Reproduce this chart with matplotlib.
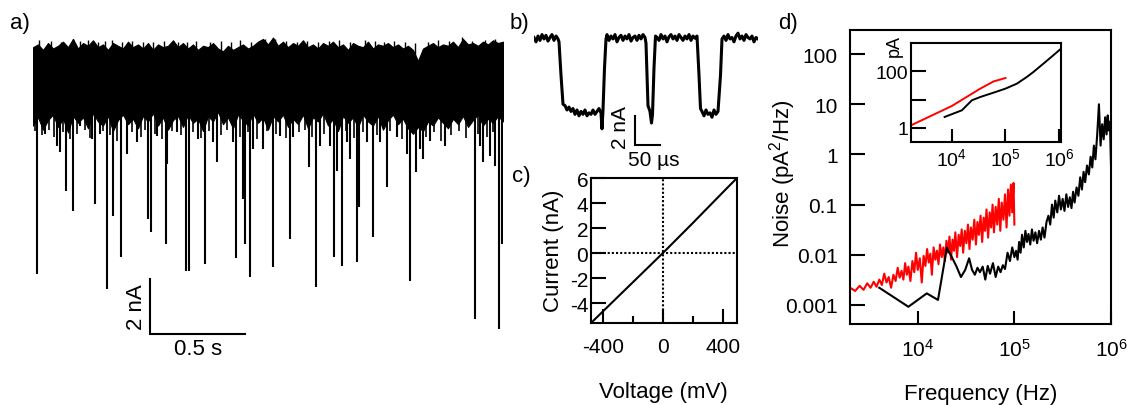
import numpy as np
import matplotlib
matplotlib.use('Agg')
import matplotlib.pyplot as plt
from matplotlib.ticker import FixedLocator, FixedFormatter, NullLocator

plt.rcParams['font.family'] = ['Liberation Sans', 'DejaVu Sans']
plt.rcParams['mathtext.default'] = 'regular'
plt.rcParams['axes.unicode_minus'] = False

# ---------------- data ----------------
# panel a: current trace (nA) over 2.47 s, noise band envelopes + translocation spikes
a_duration = 2.474
a_top = [1.45,1.55,1.35,1.60,1.40,1.50,1.65,1.45,1.75,1.40,1.60,1.50,1.70,1.45,1.55,1.35,1.60,1.50,1.40,1.65,
         1.45,1.55,1.40,1.60,1.35,1.55,1.45,1.50,1.70,1.45,1.60,1.40,1.55,1.35,1.50,1.45,1.60,1.40,1.30,1.50,
         1.35,1.45,1.55,1.40,1.50,1.65,1.75,1.55,1.80,1.50,1.65,1.45,1.60,1.50,1.70,1.45,1.55,1.40,1.60,1.50,
         1.65,1.45,1.55,1.35,1.60,1.50,1.45,1.65,1.40,1.55,1.50,1.60,1.45,1.55,1.40,1.50,1.35,0.95,1.40,1.50,
         1.60,1.45,1.55,1.50,1.65,1.45,1.75,1.55,1.60,1.50,1.65,1.55,1.70,1.60,1.65]
a_bottom = [-1.40,-1.10,-1.55,-1.20,-1.00,-1.45,-1.15,-1.65,-1.05,-1.30,-1.10,-1.50,-0.95,-1.25,-1.40,-1.05,
            -1.60,-1.20,-1.00,-1.35,-1.15,-1.50,-1.05,-1.25,-0.95,-1.40,-1.10,-1.55,-1.20,-1.05,-1.45,-1.00,
            -1.30,-1.15,-1.60,-1.05,-1.25,-0.90,-1.35,-1.10,-1.50,-1.00,-1.20,-1.40,-0.95,-1.30,-1.10,-1.55,
            -1.05,-1.25,-1.00,-1.45,-1.15,-1.35,-1.00,-1.50,-1.10,-1.25,-0.95,-1.40,-1.15,-1.60,-1.05,-1.30,
            -1.10,-1.45,-1.00,-1.25,-1.40,-1.05,-1.55,-1.20,-1.00,-1.35,-1.15,-1.50,-1.70,-1.45,-1.60,-1.25,
            -1.40,-1.10,-1.30,-1.50,-1.15,-1.35,-1.05,-1.45,-1.20,-1.00,-1.40,-1.15,-1.30,-1.05,-1.25]
a_spike_t = [0.021,0.063,0.126,0.142,0.174,0.211,0.247,0.311,0.326,0.353,0.389,0.421,0.463,0.495,0.547,
             0.605,0.621,0.653,0.700,0.705,0.758,0.805,0.821,0.868,0.905,0.947,0.968,1.053,1.068,1.105,
             1.116,1.142,1.158,1.211,1.263,1.300,1.353,1.368,1.453,1.489,1.511,1.563,1.584,1.600,1.626,
             1.653,1.668,1.705,1.716,1.758,1.789,1.826,1.863,1.916,1.968,1.984,2.016,2.037,2.053,2.089,
             2.168,2.326,2.353,2.368,2.405,2.432,2.453,2.468]
a_spike_i = [-6.80,-1.71,-2.15,-2.36,-3.78,-4.51,-1.42,-1.89,-4.25,-1.71,-7.35,-4.69,-6.18,-2.44,-2.00,
             -4.80,-5.27,-1.78,-5.71,-2.80,-1.64,-6.69,-6.69,-1.89,-6.44,-2.00,-2.73,-2.00,-6.22,-4.07,
             -5.71,-6.91,-2.25,-2.25,-6.55,-1.78,-5.53,-1.82,-2.91,-7.27,-2.15,-2.15,-6.18,-3.05,-6.51,
             -2.00,-2.62,-6.36,-4.36,-2.00,-5.45,-2.00,-3.64,-1.82,-2.44,-7.05,-3.09,-2.25,-2.62,-1.96,
             -2.15,-8.44,-2.15,-2.73,-2.51,-2.87,-8.80,-5.71]
# short noise excursions above and below the band
a_up_t = [0.030,0.095,0.150,0.211,0.250,0.289,0.340,0.380,0.416,0.470,0.520,0.580,0.632,0.690,0.763,
          0.810,0.860,0.930,0.990,1.040,1.090,1.150,1.221,1.274,1.330,1.390,1.440,1.500,1.560,1.610,
          1.670,1.747,1.800,1.850,1.900,1.960,2.010,2.080,2.130,2.190,2.258,2.310,2.380,2.432]
a_up_i = [1.70,1.68,1.62,1.75,1.66,1.71,1.64,1.69,1.71,1.62,1.66,1.63,1.64,1.67,1.64,
          1.62,1.68,1.63,1.66,1.62,1.70,1.65,1.75,1.75,1.67,1.62,1.69,1.64,1.66,1.72,
          1.63,1.71,1.66,1.62,1.68,1.64,1.60,1.65,1.70,1.66,1.82,1.68,1.72,1.75]
a_dn_t = [0.010,0.045,0.085,0.110,0.160,0.195,0.230,0.275,0.300,0.370,0.405,0.440,0.520,0.570,0.590,
          0.640,0.680,0.730,0.780,0.840,0.885,0.925,0.990,1.020,1.090,1.130,1.180,1.230,1.280,1.330,
          1.400,1.430,1.470,1.530,1.650,1.690,1.735,1.810,1.880,1.940,2.000,2.070,2.110,2.150,2.200,
          2.240,2.280,2.340,2.390,2.420]
a_dn_i = [-1.60,-1.75,-1.55,-1.80,-1.65,-1.90,-1.70,-1.55,-1.85,-1.60,-1.75,-1.95,-1.65,-1.80,-1.55,
          -1.70,-1.90,-1.60,-1.75,-1.65,-1.85,-1.60,-1.75,-1.55,-1.80,-1.65,-1.90,-1.60,-1.70,-1.85,
          -1.65,-1.55,-1.80,-1.70,-1.60,-1.85,-1.65,-1.75,-1.60,-1.90,-1.70,-1.80,-1.65,-1.95,-1.75,
          -1.60,-1.85,-1.70,-1.80,-1.65]
a_bar_t, a_bar_i = 0.5, 2.0   # scale bar: 0.5 s, 2 nA

# panel b: zoom on single events (time in us, current in nA)
b_t = [0,4,8,12,16,20,24,28,32,36,40,44,48,
       50,54,58,
       62,66,70,74,78,82,86,90,94,98,102,106,110,114,118,122,126,130,134,
       136,138,141,144,
       146,150,154,158,162,166,170,174,178,182,186,190,194,198,202,206,210,214,218,222,
       224,228,232,235,237,240,243,
       246,250,254,258,262,266,270,274,278,282,286,290,294,298,302,306,310,314,318,322,326,
       330,333,
       336,340,344,348,352,356,360,364,368,
       373,376,
       380,384,388,392,396,400,404,408,412,416,420,424,428,432,436,440,444,448]
b_i = [0.1,-0.2,0.2,-0.1,0.3,0.0,0.25,-0.15,0.1,0.3,-0.1,0.2,0.0,
       -0.2,-2.5,-4.5,
       -4.6,-4.9,-4.7,-5.0,-4.8,-5.2,-4.9,-5.3,-5.0,-5.2,-4.9,-5.3,-5.1,-5.2,-4.9,-5.2,-5.0,-4.8,-5.1,
       -6.2,-4.9,-2.0,0.0,
       0.3,-0.1,0.2,0.0,0.3,-0.2,0.1,0.25,-0.1,0.2,0.0,0.3,-0.15,0.1,0.2,-0.1,0.25,0.0,0.3,0.1,
       -0.3,-4.6,-5.0,-5.8,-5.2,-2.0,0.2,
       0.1,-0.1,0.3,0.0,0.2,-0.2,0.15,0.3,0.0,0.2,-0.1,0.3,0.1,-0.1,0.2,0.0,0.3,-0.1,0.2,0.05,0.2,
       -2.5,-4.8,
       -5.0,-5.3,-4.9,-5.2,-5.1,-5.4,-4.9,-5.2,-5.0,
       -2.5,0.0,
       0.2,-0.1,0.3,0.0,0.1,-0.2,0.2,0.4,0.0,0.2,-0.1,0.3,0.1,0.0,0.2,-0.2,0.1,0.0]
b_bar_t, b_bar_i = 50, 2.0    # scale bar: 50 us, 2 nA

# panel c: I-V curve
c_voltage = [-478, -400, -200, 0, 200, 400, 495]
c_current = [-5.57, -4.66, -2.33, 0.0, 2.40, 4.85, 6.0]

# panel d: noise power spectral density (pA^2/Hz)
d_red_f = [2000,2250,2500,2750,3000,3250,3500,3750,4000,4250,4500,4750,5000,5300,5600,5900,6200,6500,6800,
           7100,7400,7700,8000,8400,8800,9200,9600,10000,10500,11000,11500,12000,12500,13000,13500,14000,
           14600,15200,15800,16400,17000,17700,18400,19100,19800,20500,21300,22100,22900,23700,24500,25500,
           26500,27500,28500,29500,30700,31900,33100,34300,35500,37000,38500,40000,41500,43000,44700,46400,
           48100,49800,51500,53500,55500,57500,59500,61500,64000,66500,69000,71500,74000,77000,80000,83000,
           86000,89000,92000,95000,98000,100000]
d_red = [0.0022,0.0019,0.0024,0.0020,0.0027,0.0022,0.0029,0.0023,0.0032,0.0025,0.0042,0.0028,0.0036,0.0022,
         0.0040,0.0030,0.0055,0.0035,0.0048,0.0032,0.0068,0.0040,0.0058,0.0030,0.0075,0.0045,0.0110,0.0050,
         0.0085,0.0028,0.0095,0.0060,0.0130,0.0070,0.0105,0.0040,0.0140,0.0080,0.0120,0.0065,0.0160,0.0090,
         0.0140,0.0075,0.0190,0.0110,0.0230,0.0080,0.0200,0.0120,0.0280,0.0090,0.0250,0.0150,0.0320,0.0110,
         0.0300,0.0170,0.0400,0.0130,0.0350,0.0200,0.0500,0.0160,0.0450,0.0250,0.0600,0.0180,0.0550,0.0300,
         0.0800,0.0220,0.0700,0.0350,0.1000,0.0280,0.0900,0.0400,0.1300,0.0300,0.1100,0.0500,0.1600,0.0350,
         0.2000,0.0600,0.2500,0.0700,0.2700,0.0400]
d_blk_f = [4000,8000,12400,16200,20000,22500,25000,28000,31000,34000,36500,39000,41500,44000,47000,50000,
           53000,56000,60000,64000,68000,72000,76000,80000,85000,90000,95000,100000,
           104000,108000,112000,116000,120000,125000,130000,135000,140000,146000,152000,158000,165000,172000,
           180000,188000,196000,205000,215000,225000,235000,245000,255000,265000,278000,290000,303000,316000,
           330000,345000,360000,375000,390000,405000,420000,440000,460000,480000,500000,520000,540000,565000,
           590000,615000,640000,665000,690000,720000,750000,780000,810000,840000,870000,900000,925000,950000,
           975000,1000000]
d_blk = [0.0022,0.00092,0.0017,0.00126,0.0138,0.009,0.006,0.0036,0.005,0.0085,0.005,0.004,0.0055,0.0045,
         0.0058,0.0032,0.006,0.0042,0.0068,0.0036,0.0058,0.0045,0.0062,0.0052,0.011,0.0075,0.014,0.009,
         0.012,0.008,0.018,0.011,0.025,0.014,0.030,0.018,0.026,0.016,0.032,0.019,0.028,0.017,
         0.030,0.020,0.035,0.022,0.045,0.060,0.040,0.10,0.055,0.12,0.07,0.15,0.08,0.13,
         0.075,0.16,0.09,0.14,0.085,0.18,0.11,0.22,0.15,0.35,0.2,0.45,0.28,0.6,
         0.4,0.9,0.55,1.5,0.8,2.5,10.0,1.5,4.0,2.0,5.5,2.5,6.0,3.0,
         4.5,0.6]
# inset: integrated rms noise (pA)
i_red_f = [1720, 10000, 33800, 60000, 100000]
i_red = [1.24, 6.0, 24.5, 44.0, 58.0]
i_blk_f = [7300, 15300, 23600, 33800, 60000, 100000, 163000, 250000, 333000, 510000, 780000, 1090000]
i_blk = [2.45, 4.2, 9.5, 12.4, 17.7, 24.5, 36.6, 63.0, 95.0, 186.0, 366.0, 630.0]

d_yticks = [0.001, 0.01, 0.1, 1, 10, 100]
d_ylabels = ['0.001', '0.01', '0.1', '1', '10', '100']
d_xticks = [1e4, 1e5, 1e6]
d_xlabels = ['$10^4$', '$10^5$', '$10^6$']

# ---------------- figure ----------------
W, H = 1127, 406
fig = plt.figure(figsize=(W / 100, H / 100), dpi=100)


def px_axes(x0, y0, x1, y1):
    return fig.add_axes([x0 / W, 1 - y1 / H, (x1 - x0) / W, (y1 - y0) / H])


def ftext(x, y, s, **kw):
    fig.text(x / W, 1 - y / H, s, **kw)


LW = 1.5
FS_TICK = 15
FS_LAB = 16

# ---- panel a ----
axa = px_axes(33, 30, 503, 340)
axa.set_xlim(0, a_duration)
axa.set_ylim(-9.16, 2.11)
axa.axis('off')
axa.fill_between(np.linspace(0, a_duration, len(a_top)), 0, a_top, color='k', lw=0.8, edgecolor='k')
axa.fill_between(np.linspace(0, a_duration, len(a_bottom)), a_bottom, 0, color='k', lw=0.8, edgecolor='k')
axa.vlines(a_up_t, 0, a_up_i, color='k', lw=1.0)
axa.vlines(a_dn_t, 0, a_dn_i, color='k', lw=1.2)
axa.vlines(a_spike_t, 0, a_spike_i, color='k', lw=1.5)
bx0, by0 = 0.616, -8.98
axa.plot([bx0, bx0, bx0 + a_bar_t], [by0 + a_bar_i, by0, by0], color='k', lw=LW,
         solid_joinstyle='miter', clip_on=False)
ftext(147, 307, '2 nA', rotation=90, ha='right', va='center', fontsize=FS_LAB)
ftext(198, 350, '0.5 s', ha='center', va='center', fontsize=FS_LAB)

# ---- panel b ----
axb = px_axes(534, 25, 758, 170)
axb.set_xlim(0, 448)
axb.set_ylim(-8.97, 1.03)
axb.axis('off')
axb.plot(b_t, b_i, color='k', lw=2.2)
cx0, cy0 = 202, -7.31
axb.plot([cx0, cx0, cx0 + b_bar_t], [cy0 + b_bar_i, cy0, cy0], color='k', lw=LW,
         solid_joinstyle='miter', clip_on=False)
ftext(630, 128, '2 nA', rotation=90, ha='right', va='center', fontsize=FS_TICK)
ftext(654, 161, '50 µs', ha='center', va='center', fontsize=FS_TICK)

# ---- panel c ----
axc = px_axes(591, 179, 737, 324)
axc.plot(c_voltage, c_current, color='k', lw=LW)
axc.axvline(0, color='k', lw=1.5, ls=(0, (1, 1)))
axc.axhline(0, color='k', lw=1.5, ls=(0, (1, 1)))
axc.set_xlim(-478, 495)
axc.set_ylim(-5.57, 6)
axc.xaxis.set_major_locator(FixedLocator([-400, 0, 400]))
axc.xaxis.set_minor_locator(FixedLocator([-200, 200]))
axc.yaxis.set_major_locator(FixedLocator([-4, -2, 0, 2, 4, 6]))
axc.tick_params(axis='x', which='major', direction='in', length=10, width=LW, labelsize=FS_TICK, pad=10)
axc.tick_params(axis='x', which='minor', direction='in', length=5, width=LW)
axc.tick_params(axis='y', which='major', direction='in', length=10.8, width=LW, labelsize=FS_TICK, pad=2)
for s in axc.spines.values():
    s.set_linewidth(LW)
ftext(553, 251, 'Current (nA)', rotation=90, ha='center', va='center', fontsize=FS_LAB)
ftext(663, 393, 'Voltage (mV)', ha='center', va='center', fontsize=FS_LAB)

# ---- panel d ----
axd = px_axes(850, 31, 1111, 325)
axd.set_xscale('log')
axd.set_yscale('log')
axd.plot(d_red_f, d_red, color='#ff0000', lw=1.5)
axd.plot(d_blk_f, d_blk, color='k', lw=1.5)
axd.set_xlim(1990, 1e6)
axd.set_ylim(4.17e-4, 302)
axd.xaxis.set_major_locator(FixedLocator(d_xticks))
axd.xaxis.set_major_formatter(FixedFormatter(d_xlabels))
axd.yaxis.set_major_locator(FixedLocator(d_yticks))
axd.yaxis.set_major_formatter(FixedFormatter(d_ylabels))
axd.xaxis.set_minor_locator(NullLocator())
axd.yaxis.set_minor_locator(NullLocator())
axd.tick_params(axis='x', direction='in', length=9.4, width=LW, labelsize=FS_TICK, pad=10)
axd.tick_params(axis='y', direction='in', length=10.8, width=LW, labelsize=FS_TICK, pad=9)
for s in axd.spines.values():
    s.set_linewidth(LW)
ftext(783, 174, 'Noise (pA$^2$/Hz)', rotation=90, ha='center', va='center', fontsize=FS_LAB)
ftext(981, 395, 'Frequency (Hz)', ha='center', va='center', fontsize=FS_LAB)

# inset
axi = px_axes(911, 44, 1061, 143)
axi.set_facecolor('white')
axi.set_xscale('log')
axi.set_yscale('log')
axi.plot(i_red_f, i_red, color='#ff0000', lw=1.4)
axi.plot(i_blk_f, i_blk, color='k', lw=1.4)
axi.set_xlim(1720, 1.09e6)
axi.set_ylim(0.32, 1000)
axi.xaxis.set_major_locator(FixedLocator(d_xticks))
axi.xaxis.set_major_formatter(FixedFormatter(d_xlabels))
axi.yaxis.set_major_locator(FixedLocator([1, 10, 100]))
axi.yaxis.set_major_formatter(FixedFormatter(['1', '', '100']))
axi.xaxis.set_minor_locator(NullLocator())
axi.yaxis.set_minor_locator(NullLocator())
axi.tick_params(axis='x', direction='in', length=9.4, width=LW, labelsize=14, pad=3.5)
axi.tick_params(axis='y', direction='in', length=10.8, width=LW, labelsize=14, pad=2)
for s in axi.spines.values():
    s.set_linewidth(LW)
ftext(894, 46, 'pA', rotation=90, ha='center', va='center', fontsize=13)

# panel letters
ftext(10, 24, 'a)', ha='left', va='center', fontsize=FS_LAB)
ftext(510, 23, 'b)', ha='left', va='center', fontsize=FS_LAB)
ftext(512, 177, 'c)', ha='left', va='center', fontsize=FS_LAB)
ftext(778, 24, 'd)', ha='left', va='center', fontsize=FS_LAB)

fig.savefig('out.png', dpi=100)
